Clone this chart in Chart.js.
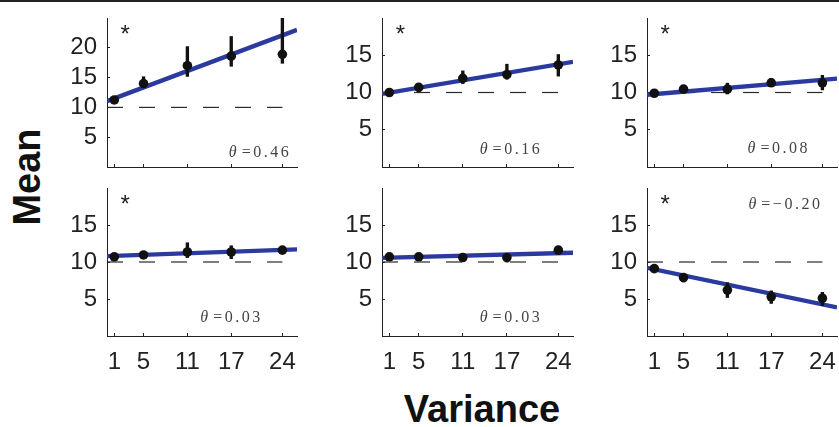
<!DOCTYPE html>
<html>
<head>
<meta charset="utf-8">
<script src="https://cdn.jsdelivr.net/npm/chart.js@4.4.1/dist/chart.umd.min.js"></script>
<style>
  body { margin: 0; background: #fff; }
  #wrap { position: relative; width: 839px; height: 427px; overflow: hidden; border-top: 2px solid #222; box-sizing: border-box; }
  #wrap canvas { position: absolute; }
  .axlab { position: absolute; font: bold 38px "Liberation Sans", Arial, sans-serif; color: #111; line-height: 1; white-space: nowrap; }
  #ylab { left: 27px; top: 175px; transform: translate(-50%, -50%) rotate(-90deg); }
  #xlab { left: 482px; top: 407px; transform: translate(-50%, -50%); }
</style>
</head>
<body>
<div id="wrap">
  <div class="axlab" id="ylab">Mean</div>
  <div class="axlab" id="xlab">Variance</div>
</div>
<script>
// x categories (variance levels) and their tick labels
const xValues = [1, 5, 11, 17, 24];
const xTickLabels = ['1', '5', '11', '17', '24'];

// mean per panel, and the error bar ends
const means = [
  [11.25, 14.0, 17.0, 18.6, 18.9],
  [10.0, 10.7, 11.9, 12.4, 13.7],
  [9.9, 10.45, 10.45, 11.3, 11.3],
  [10.7, 10.95, 11.35, 11.35, 11.6],
  [10.7, 10.7, 10.6, 10.6, 11.6],
  [9.1, 7.9, 6.2, 5.3, 5.1]
];
const errLow = [
  [10.8, 13.4, 15.2, 16.9, 17.4],
  [9.7, 10.1, 11.2, 11.8, 12.2],
  [9.6, 10.1, 9.8, 10.9, 10.35],
  [10.4, 10.65, 10.6, 10.45, 11.3],
  [10.4, 10.4, 10.3, 10.0, 11.3],
  [8.8, 7.3, 5.2, 4.4, 4.1]
];
const errHigh = [
  [11.7, 15.15, 20.2, 21.9, 25.5],
  [10.3, 11.1, 12.9, 13.8, 15.1],
  [10.2, 10.8, 11.25, 11.9, 12.3],
  [11.0, 11.25, 12.6, 12.2, 11.9],
  [11.0, 11.0, 10.9, 11.1, 11.9],
  [9.4, 8.3, 7.2, 6.1, 5.9]
];

// fitted line per panel
const fitIntercept = [11.05, 9.8, 9.7, 10.8, 10.55, 9.2];
const fitSlope = [0.46, 0.166, 0.083, 0.035, 0.027, -0.205];
const fitRange = [0, 26];

// reference level (dashed)
const refLevel = 10;
const refRange = [0, 24];

const thetaLabels = ['0.46', '0.16', '0.08', '0.03', '0.03', '\u22120.20'];
const significant = [true, true, true, true, false, true];
const yMax = [25, 20, 20, 20, 20, 20];
const yTicks = [[5, 10, 15, 20], [5, 10, 15], [5, 10, 15], [5, 10, 15], [5, 10, 15], [5, 10, 15]];

// where the theta text sits (right end x, middle y, in data units)
const thetaAnchorX = [25.2, 21.8, 22.3, 21.3, 21.8, 24.0];
const thetaAnchorY = [2.35, 2.3, 2.4, 2.4, 2.4, 17.7];

/* === LAYOUT === */
const colLeft = [107, 382, 647], colWidth = [190, 191, 190];
const rowTop = [18, 188], rowHeight = [149, 148];
const YAXIS_W = 62, PAD_T = 32, PAD_R = 22, PAD_B = 32, XAXIS_H = 52;

Chart.defaults.font.family = '"Liberation Sans", Arial, sans-serif';
Chart.defaults.color = '#222';

const annotations = {
  id: 'annotations',
  afterDatasetsDraw(chart, args, opts) {
    const i = opts.panel, ctx = chart.ctx, xs = chart.scales.x, ys = chart.scales.y;
    ctx.save();
    if (significant[i]) {
      ctx.font = '24px "Liberation Sans", Arial, sans-serif';
      ctx.fillStyle = '#222';
      ctx.textAlign = 'center';
      ctx.textBaseline = 'alphabetic';
      ctx.fillText('*', xs.getPixelForValue(2.5), chart.chartArea.top + 24);
    }
    const right = xs.getPixelForValue(thetaAnchorX[i]);
    const mid = ys.getPixelForValue(thetaAnchorY[i]);
    ctx.fillStyle = '#444';
    ctx.textBaseline = 'middle';
    ctx.textAlign = 'right';
    ctx.font = '16px "Liberation Serif", "DejaVu Serif", serif';
    ctx.letterSpacing = '2.5px';
    const rest = '=' + thetaLabels[i];
    ctx.fillText(rest, right, mid);
    const w = ctx.measureText(rest).width;
    ctx.letterSpacing = '0px';
    ctx.font = 'italic 16px "Liberation Serif", "DejaVu Serif", serif';
    ctx.fillText('\u03b8', right - w - 5, mid);
    ctx.restore();
  }
};

function makePanel(i) {
  const row = Math.floor(i / 3), col = i % 3;
  const bottomRow = row === 1;
  const xAxisH = bottomRow ? XAXIS_H : 2;
  const padB = bottomRow ? 0 : PAD_B;
  const canvas = document.createElement('canvas');
  const w = YAXIS_W + colWidth[col] + PAD_R;
  const h = PAD_T + rowHeight[row] + xAxisH + padB;
  canvas.width = w; canvas.height = h;
  canvas.style.left = (colLeft[col] - YAXIS_W) + 'px';
  canvas.style.top = (rowTop[row] - PAD_T - 2) + 'px';
  document.getElementById('wrap').appendChild(canvas);

  const fitPts = fitRange.map(x => ({ x: x, y: fitIntercept[i] + fitSlope[i] * x }));
  const refPts = refRange.map(x => ({ x: x, y: refLevel }));
  const meanPts = xValues.map((x, k) => ({ x: x, y: means[i][k] }));
  const errBars = xValues.map((x, k) => ({ x: x, y: [errLow[i][k], errHigh[i][k]] }));

  new Chart(canvas, {
    type: 'line',
    data: {
      datasets: [
        { type: 'line', data: meanPts, showLine: false, pointRadius: 4.8, pointBackgroundColor: '#111', pointBorderWidth: 0, order: 0 },
        { type: 'bar', data: errBars, backgroundColor: '#111', barThickness: 2.7, borderWidth: 0, order: 1 },
        { type: 'line', data: fitPts, borderColor: '#2b3a9e', borderWidth: 4.3, pointRadius: 0, order: 2 },
        { type: 'line', data: refPts, borderColor: '#2a2a2a', borderWidth: 1.2, borderDash: [16, 16], pointRadius: 0, order: 3 }
      ]
    },
    options: {
      responsive: false,
      devicePixelRatio: 1,
      animation: false,
      events: [],
      layout: { padding: { top: PAD_T, right: PAD_R, bottom: padB, left: 0 } },
      plugins: { legend: { display: false }, tooltip: { enabled: false }, annotations: { panel: i } },
      scales: {
        x: {
          type: 'linear', min: 0, max: 26, offset: false,
          afterBuildTicks: s => { s.ticks = xValues.map(v => ({ value: v })); },
          afterFit: s => { s.height = xAxisH; },
          ticks: {
            display: bottomRow, padding: 15, autoSkip: false, maxRotation: 0,
            font: { size: 24 }, color: '#222',
            callback: (v) => xTickLabels[xValues.indexOf(v)]
          },
          grid: { offset: false, drawOnChartArea: false, tickLength: -3, color: '#222', lineWidth: 1 },
          border: { display: true, color: '#222', width: 1 }
        },
        y: {
          type: 'linear', min: 0, max: yMax[i],
          afterBuildTicks: s => { s.ticks = yTicks[i].map(v => ({ value: v })); },
          afterFit: s => { s.width = YAXIS_W; },
          ticks: { padding: 13, font: { size: 24 }, color: '#222' },
          grid: { drawOnChartArea: false, tickLength: -3, color: '#222', lineWidth: 1 },
          border: { display: true, color: '#222', width: 1 }
        }
      }
    },
    plugins: [annotations]
  });
}

for (let i = 0; i < 6; i++) makePanel(i);
</script>
</body>
</html>
